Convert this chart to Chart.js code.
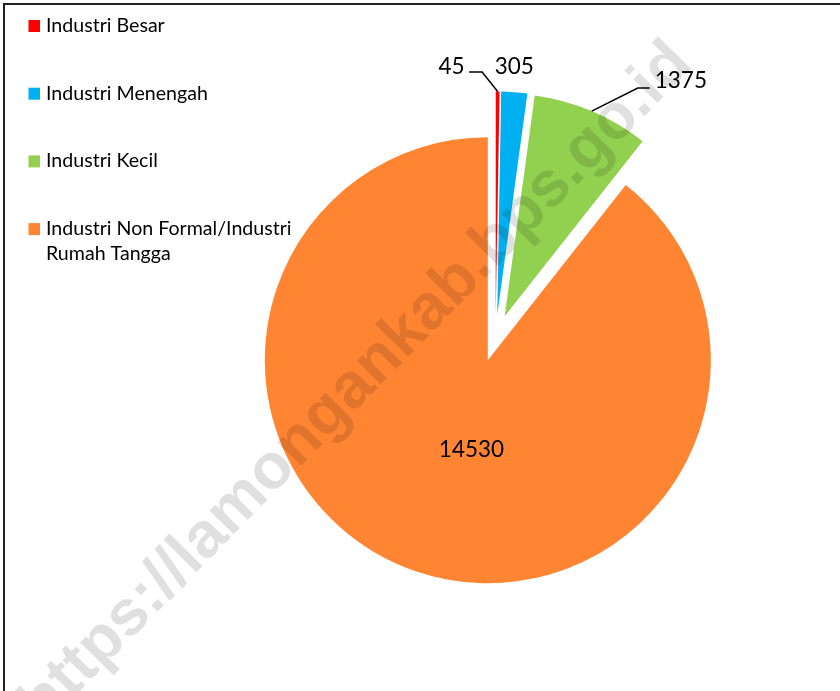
<!DOCTYPE html>
<html><head><meta charset="utf-8">
<script src="https://cdn.jsdelivr.net/npm/chart.js@4/dist/chart.umd.min.js"></script>
<style>html,body{margin:0;padding:0;background:#fff;} #wrap{width:840px;height:691px;position:relative;}</style>
</head><body><div id="wrap"><canvas id="c"></canvas></div>
<script>
// ---- data ----
const categories = ['Industri Besar', 'Industri Menengah', 'Industri Kecil', 'Industri Non Formal/Industri Rumah Tangga'];
const legendLines = [['Industri Besar'], ['Industri Menengah'], ['Industri Kecil'], ['Industri Non Formal/Industri', 'Rumah Tangga']];
const values = [45, 305, 1375, 14530];
const colors = ['#FF0000', '#00B0F0', '#92D050', '#FF8533'];
const watermarkText = 'https://lamongankab.bps.go.id';

// ---- styling / layout ----
const EXPLODE = 23.5;
const RADIUS = 223;
const LABEL_FONT = '22.5px Lato, "Open Sans", sans-serif';
const LEGEND_FONT = '19.6px Lato, "Open Sans", sans-serif';

function geom(arc) {
  const mid = (arc.startAngle + arc.endAngle) / 2;
  const cx = arc.x + Math.cos(mid) * EXPLODE;
  const cy = arc.y + Math.sin(mid) * EXPLODE;
  return { mid, cx, cy, px: cx + Math.cos(mid) * arc.outerRadius, py: cy + Math.sin(mid) * arc.outerRadius };
}

// label layout per slice (relative to slice geometry)
const labelLayout = [
  { type: 'leader', bend: [-15.5, -19.5], end: [-28.5, -19.5], text: [-33, -17.5], align: 'right' },
  { type: 'plain', text: [0, -18], align: 'center' },
  { type: 'leader', bend: [46, -23], end: [58, -23], text: [63, -23], align: 'left' },
  { type: 'inside', frac: 0.41, dAngle: -8.8, align: 'center' }
];

const explodedPie = {
  id: 'explodedPie',
  beforeDatasetDraw(chart, args) {
    const ctx = chart.ctx;
    args.meta.data.forEach(arc => {
      const mid = (arc.startAngle + arc.endAngle) / 2;
      ctx.save();
      ctx.translate(Math.cos(mid) * EXPLODE, Math.sin(mid) * EXPLODE);
      arc.draw(ctx);
      ctx.restore();
    });
    return false;
  }
};

const extras = {
  id: 'extras',
  afterDraw(chart) {
    const ctx = chart.ctx;
    const meta = chart.getDatasetMeta(0);
    // data labels
    ctx.save();
    ctx.font = LABEL_FONT;
    ctx.fillStyle = '#000';
    ctx.strokeStyle = '#000';
    ctx.lineWidth = 1.5;
    ctx.textBaseline = 'alphabetic';
    meta.data.forEach((arc, i) => {
      const g = geom(arc);
      const L = labelLayout[i];
      const txt = String(values[i]);
      ctx.textAlign = L.align;
      if (L.type === 'inside') {
        const a = g.mid + L.dAngle * Math.PI / 180;
        const x = g.cx + Math.cos(a) * RADIUS * L.frac;
        const y = g.cy + Math.sin(a) * RADIUS * L.frac;
        ctx.textBaseline = 'middle';
        ctx.fillText(txt, x, y);
        ctx.textBaseline = 'alphabetic';
        return;
      }
      if (L.type === 'leader') {
        ctx.beginPath();
        ctx.moveTo(g.px, g.py);
        ctx.lineTo(g.px + L.bend[0], g.py + L.bend[1]);
        ctx.lineTo(g.px + L.end[0], g.py + L.end[1]);
        ctx.stroke();
      }
      ctx.fillText(txt, g.px + L.text[0], g.py + L.text[1]);
    });
    ctx.restore();

    // legend
    ctx.save();
    ctx.font = LEGEND_FONT;
    ctx.fillStyle = '#000';
    ctx.textAlign = 'left';
    ctx.textBaseline = 'alphabetic';
    const top = 32, rowStep = 67.7, lineH = 25;
    legendLines.forEach((lines, i) => {
      const base = top + i * rowStep;
      ctx.fillStyle = colors[i];
      ctx.fillRect(28.5, base - 12, 11.5, 12);
      ctx.fillStyle = '#000';
      lines.forEach((ln, j) => ctx.fillText(ln, 46, base + j * lineH));
    });
    ctx.restore();

    // frame (top and left edges)
    ctx.save();
    ctx.strokeStyle = '#222';
    ctx.lineWidth = 2;
    ctx.beginPath();
    ctx.moveTo(840, 4);
    ctx.lineTo(4, 4);
    ctx.lineTo(4, 691);
    ctx.stroke();
    ctx.restore();

    // watermark
    ctx.save();
    ctx.translate(43.7, 727.6);
    ctx.rotate(-45.5 * Math.PI / 180);
    ctx.font = 'bold 64px "Liberation Sans", Arial, sans-serif';
    ctx.fillStyle = 'rgba(0,0,0,0.12)';
    ctx.textAlign = 'left';
    ctx.textBaseline = 'alphabetic';
    ctx.fillText(watermarkText, 0, 0);
    ctx.restore();
  }
};

new Chart(document.getElementById('c'), {
  type: 'pie',
  data: {
    labels: categories,
    datasets: [{ data: values, backgroundColor: colors, borderWidth: 0, offset: 0, hoverOffset: 0 }]
  },
  options: {
    responsive: true,
    maintainAspectRatio: false,
    animation: false,
    radius: RADIUS,
    rotation: 0,
    events: [],
    layout: { padding: { left: 151, right: 0, top: 0, bottom: 15 } },
    plugins: { legend: { display: false }, tooltip: { enabled: false } }
  },
  plugins: [explodedPie, extras]
});
</script>
</body></html>
